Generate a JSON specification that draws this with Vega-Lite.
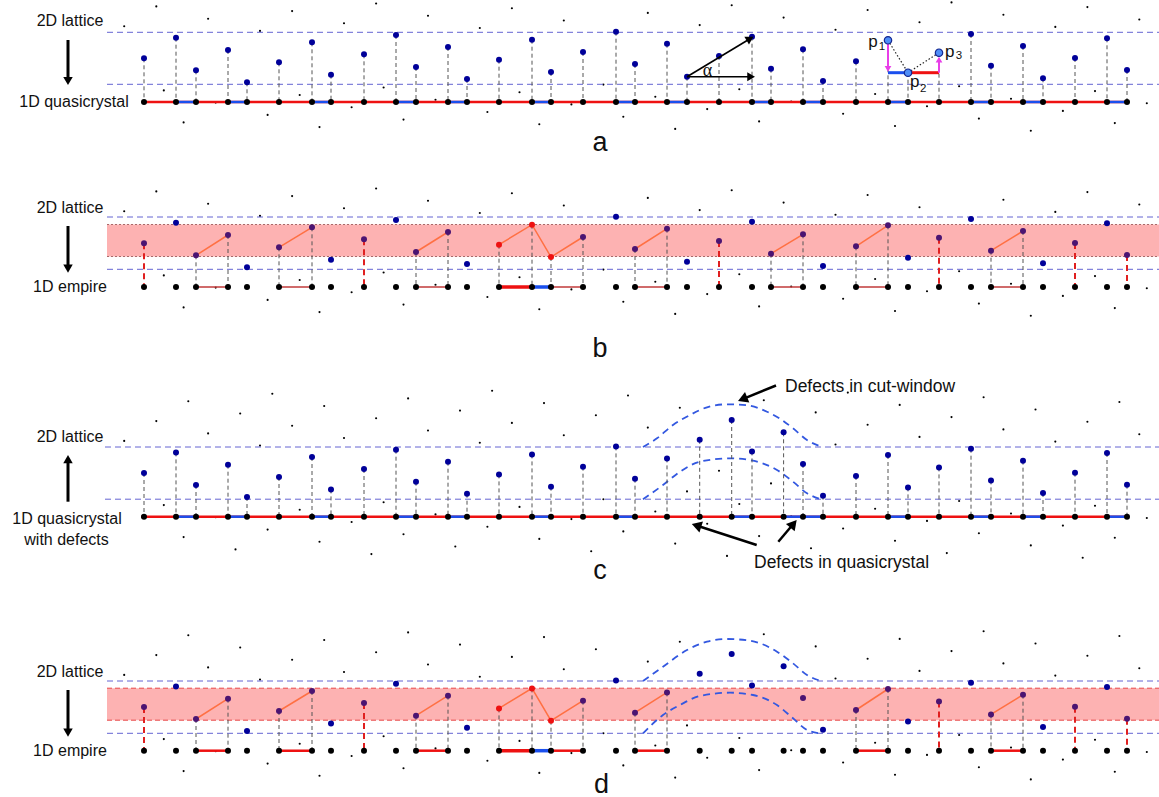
{
"$schema": "https://vega.github.io/schema/vega-lite/v6.json",
"background": "white",
"padding": 0,
"spacing": 0,
"bounds": "flush",
"config": {"view": {"stroke": null}, "text": {"font": "Liberation Sans"}},
"resolve": {"scale": {"x": "independent", "y": "independent", "color": "independent"}},
"datasets": {
"qa": [
{"x":144,"y":58.3,"t":"i","s":"r"},{"x":176,"y":37.7,"t":"o","s":"n"},{"x":196,"y":70.3,"t":"i","s":"g"},{"x":228,"y":50,"t":"i","s":"g"},
{"x":247,"y":82.3,"t":"o","s":"n"},{"x":279,"y":62.3,"t":"i","s":"g"},{"x":312,"y":42.3,"t":"i","s":"g"},{"x":331,"y":74.7,"t":"o","s":"n"},
{"x":364,"y":54.3,"t":"i","s":"r"},{"x":396,"y":35,"t":"o","s":"n"},{"x":416,"y":67,"t":"i","s":"g"},{"x":448,"y":47,"t":"i","s":"g"},
{"x":467,"y":79,"t":"o","s":"n"},{"x":499,"y":59.7,"t":"r","s":"g"},{"x":532,"y":39.7,"t":"r","s":"g"},{"x":551,"y":72,"t":"r","s":"g"},
{"x":583,"y":52,"t":"i","s":"g"},{"x":616,"y":31.7,"t":"o","s":"n"},{"x":635,"y":64,"t":"i","s":"g"},{"x":667,"y":43.7,"t":"i","s":"g"},
{"x":687,"y":76.7,"t":"o","s":"n"},{"x":719,"y":56,"t":"i","s":"r"},{"x":752,"y":36.7,"t":"o","s":"n"},{"x":771,"y":68.7,"t":"i","s":"g"},
{"x":803,"y":49.3,"t":"i","s":"g"},{"x":823,"y":81,"t":"o","s":"n"},{"x":856,"y":61.3,"t":"i","s":"g"},{"x":888,"y":40.3,"t":"i","s":"g"},
{"x":908,"y":72.7,"t":"o","s":"n"},{"x":939,"y":52.7,"t":"i","s":"r"},{"x":971,"y":34,"t":"o","s":"n"},{"x":991,"y":65.7,"t":"i","s":"g"},
{"x":1023,"y":46,"t":"i","s":"g"},{"x":1043,"y":78.3,"t":"o","s":"n"},{"x":1075,"y":58,"t":"i","s":"r"},{"x":1107,"y":38.3,"t":"o","s":"n"},
{"x":1127,"y":70,"t":"i","s":"r"}
],
"qd": [
{"x":144,"y":58.3,"t":"i","s":"r"},{"x":176,"y":37.7,"t":"o","s":"n"},{"x":196,"y":70.3,"t":"i","s":"g"},{"x":228,"y":50,"t":"i","s":"g"},
{"x":247,"y":82.3,"t":"o","s":"n"},{"x":279,"y":62.3,"t":"i","s":"g"},{"x":312,"y":42.3,"t":"i","s":"g"},{"x":331,"y":74.7,"t":"o","s":"n"},
{"x":364,"y":54.3,"t":"i","s":"r"},{"x":396,"y":35,"t":"o","s":"n"},{"x":416,"y":67,"t":"i","s":"g"},{"x":448,"y":47,"t":"i","s":"g"},
{"x":467,"y":79,"t":"o","s":"n"},{"x":499,"y":59.7,"t":"r","s":"g"},{"x":532,"y":39.7,"t":"r","s":"g"},{"x":551,"y":72,"t":"r","s":"g"},
{"x":583,"y":52,"t":"i","s":"g"},{"x":616,"y":31.7,"t":"o","s":"n"},{"x":635,"y":64,"t":"i","s":"g"},{"x":667,"y":43.7,"t":"i","s":"g"},
{"x":699.7,"y":25.1,"t":"o","s":"n"},{"x":731.7,"y":5.3,"t":"o","s":"n"},{"x":752,"y":36.7,"t":"o","s":"n"},{"x":783.6,"y":17.6,"t":"o","s":"n"},
{"x":803,"y":49.3,"t":"i","s":"n"},{"x":823,"y":81,"t":"o","s":"n"},{"x":856,"y":61.3,"t":"i","s":"g"},{"x":888,"y":40.3,"t":"i","s":"g"},
{"x":908,"y":72.7,"t":"o","s":"n"},{"x":939,"y":52.7,"t":"i","s":"r"},{"x":971,"y":34,"t":"o","s":"n"},{"x":991,"y":65.7,"t":"i","s":"g"},
{"x":1023,"y":46,"t":"i","s":"g"},{"x":1043,"y":78.3,"t":"o","s":"n"},{"x":1075,"y":58,"t":"i","s":"r"},{"x":1107,"y":38.3,"t":"o","s":"n"},
{"x":1127,"y":70,"t":"i","s":"r"}
],
"sa": [
{"x":176,"x2":196,"y":102},{"x":228,"x2":247,"y":102},{"x":312,"x2":331,"y":102},{"x":396,"x2":416,"y":102},{"x":448,"x2":467,"y":102},{"x":532,"x2":551,"y":102},{"x":616,"x2":635,"y":102},
{"x":667,"x2":687,"y":102},{"x":752,"x2":771,"y":102},{"x":803,"x2":823,"y":102},{"x":888,"x2":908,"y":102},{"x":971,"x2":991,"y":102},{"x":1023,"x2":1043,"y":102},{"x":1107,"x2":1127,"y":102}
],
"sc": [
{"x":176,"x2":196,"y":102},{"x":228,"x2":247,"y":102},{"x":312,"x2":331,"y":102},{"x":396,"x2":416,"y":102},{"x":448,"x2":467,"y":102},{"x":532,"x2":551,"y":102},{"x":616,"x2":635,"y":102},
{"x":731.7,"x2":752,"y":102},{"x":783.6,"x2":803,"y":102},{"x":803,"x2":823,"y":102},{"x":888,"x2":908,"y":102},{"x":971,"x2":991,"y":102},{"x":1023,"x2":1043,"y":102},{"x":1107,"x2":1127,"y":102}
],
"bb": [
{"x":196,"x2":228,"y":102,"k":"n"},{"x":279,"x2":312,"y":102,"k":"n"},{"x":416,"x2":448,"y":102,"k":"n"},{"x":499,"x2":532,"y":102,"k":"R"},{"x":532,"x2":551,"y":102,"k":"B"},
{"x":551,"x2":583,"y":102,"k":"n"},{"x":635,"x2":667,"y":102,"k":"n"},{"x":771,"x2":803,"y":102,"k":"n"},{"x":856,"x2":888,"y":102,"k":"n"},{"x":991,"x2":1023,"y":102,"k":"n"}
],
"bd": [
{"x":196,"x2":228,"y":102,"k":"n"},{"x":279,"x2":312,"y":102,"k":"n"},{"x":416,"x2":448,"y":102,"k":"n"},{"x":499,"x2":532,"y":102,"k":"R"},{"x":532,"x2":551,"y":102,"k":"B"},
{"x":551,"x2":583,"y":102,"k":"n"},{"x":635,"x2":667,"y":102,"k":"n"},{"x":856,"x2":888,"y":102,"k":"n"},{"x":991,"x2":1023,"y":102,"k":"n"}
],
"ob": [
{"x":196,"y":70.3,"g":1},{"x":228,"y":50,"g":1},{"x":279,"y":62.3,"g":2},{"x":312,"y":42.3,"g":2},{"x":416,"y":67,"g":3},{"x":448,"y":47,"g":3},
{"x":499,"y":59.7,"g":4},{"x":532,"y":39.7,"g":4},{"x":551,"y":72,"g":4},{"x":583,"y":52,"g":4},{"x":635,"y":64,"g":5},{"x":667,"y":43.7,"g":5},
{"x":771,"y":68.7,"g":6},{"x":803,"y":49.3,"g":6},{"x":856,"y":61.3,"g":7},{"x":888,"y":40.3,"g":7},{"x":991,"y":65.7,"g":8},{"x":1023,"y":46,"g":8}
],
"od": [
{"x":196,"y":70.3,"g":1},{"x":228,"y":50,"g":1},{"x":279,"y":62.3,"g":2},{"x":312,"y":42.3,"g":2},{"x":416,"y":67,"g":3},{"x":448,"y":47,"g":3},
{"x":499,"y":59.7,"g":4},{"x":532,"y":39.7,"g":4},{"x":551,"y":72,"g":4},{"x":583,"y":52,"g":4},{"x":635,"y":64,"g":5},{"x":667,"y":43.7,"g":5},
{"x":856,"y":61.3,"g":7},{"x":888,"y":40.3,"g":7},{"x":991,"y":65.7,"g":8},{"x":1023,"y":46,"g":8}
],
"cc": [
{"x":643,"y":32.3,"g":"u"},{"x":657,"y":23.6,"g":"u"},{"x":673,"y":10.3,"g":"u"},{"x":690,"y":0.3,"g":"u"},{"x":707,"y":-7.4,"g":"u"},{"x":727,"y":-10.4,"g":"u"},
{"x":747,"y":-9.4,"g":"u"},{"x":767,"y":-3,"g":"u"},{"x":780,"y":4,"g":"u"},{"x":793,"y":13.6,"g":"u"},{"x":807,"y":25.3,"g":"u"},{"x":820,"y":31.5,"g":"u"},
{"x":643,"y":84.6,"g":"l"},{"x":663,"y":70.3,"g":"l"},{"x":680,"y":57,"g":"l"},{"x":700,"y":47,"g":"l"},{"x":730,"y":43.6,"g":"l"},{"x":753,"y":46,"g":"l"},
{"x":777,"y":55.3,"g":"l"},{"x":793,"y":67,"g":"l"},{"x":807,"y":78.6,"g":"l"},{"x":820,"y":84.4,"g":"l"}
],
"cd": [
{"x":643,"y":32.3,"g":"u"},{"x":663,"y":18,"g":"u"},{"x":687,"y":1.3,"g":"u"},{"x":707,"y":-7,"g":"u"},{"x":727,"y":-9.7,"g":"u"},{"x":750,"y":-8,"g":"u"},
{"x":760,"y":-5.4,"g":"u"},{"x":777,"y":3,"g":"u"},{"x":793,"y":14.6,"g":"u"},{"x":807,"y":26.3,"g":"u"},{"x":820,"y":32,"g":"u"},
{"x":643,"y":84.6,"g":"l"},{"x":663,"y":66.3,"g":"l"},{"x":680,"y":56.3,"g":"l"},{"x":700,"y":47.3,"g":"l"},{"x":730,"y":44,"g":"l"},{"x":753,"y":46.3,"g":"l"},
{"x":777,"y":56.3,"g":"l"},{"x":793,"y":69.6,"g":"l"},{"x":807,"y":81.3,"g":"l"},{"x":820,"y":84.6,"g":"l"}
],
"dots": [
{"x":124.2,"y":26.2,"k":"n"},{"x":156.3,"y":6.4,"k":"n"},{"x":188.3,"y":-13.4,"k":"n"},{"x":208.1,"y":18.7,"k":"n"},{"x":240.2,"y":-1.2,"k":"n"},
{"x":272.3,"y":-21,"k":"n"},{"x":163.8,"y":90.4,"k":"n"},{"x":260,"y":30.9,"k":"n"},{"x":292.1,"y":11.1,"k":"n"},{"x":324.2,"y":-8.7,"k":"n"},
{"x":183.6,"y":122.4,"k":"n"},{"x":215.7,"y":102.6,"k":"n"},{"x":344,"y":23.3,"k":"n"},{"x":376.1,"y":3.5,"k":"n"},{"x":408.1,"y":-16.3,"k":"n"},
{"x":235.5,"y":134.7,"k":"n"},{"x":267.6,"y":114.9,"k":"n"},{"x":299.7,"y":95,"k":"n"},{"x":428,"y":15.8,"k":"n"},{"x":460,"y":-4.1,"k":"n"},
{"x":492.1,"y":-23.9,"k":"n"},{"x":319.5,"y":127.1,"k":"n"},{"x":351.6,"y":107.3,"k":"n"},{"x":383.6,"y":87.5,"k":"n"},{"x":479.8,"y":28,"k":"n"},
{"x":511.9,"y":8.2,"k":"n"},{"x":544,"y":-11.6,"k":"n"},{"x":371.4,"y":139.4,"k":"n"},{"x":403.5,"y":119.6,"k":"n"},{"x":435.5,"y":99.7,"k":"n"},
{"x":563.8,"y":20.5,"k":"n"},{"x":595.9,"y":0.6,"k":"n"},{"x":628,"y":-19.2,"k":"n"},{"x":455.3,"y":131.8,"k":"n"},{"x":487.4,"y":112,"k":"n"},
{"x":519.5,"y":92.2,"k":"n"},{"x":647.8,"y":12.9,"k":"n"},{"x":679.8,"y":-6.9,"k":"n"},{"x":539.3,"y":124.2,"k":"n"},{"x":571.4,"y":104.4,"k":"n"},
{"x":603.4,"y":84.6,"k":"n"},{"x":699.7,"y":25.1,"k":"q"},{"x":731.7,"y":5.3,"k":"q"},{"x":763.8,"y":-14.5,"k":"n"},{"x":591.2,"y":136.5,"k":"n"},
{"x":623.3,"y":116.7,"k":"n"},{"x":655.3,"y":96.8,"k":"n"},{"x":783.6,"y":17.6,"k":"q"},{"x":815.7,"y":-2.3,"k":"n"},{"x":847.8,"y":-22.1,"k":"n"},
{"x":675.2,"y":128.9,"k":"n"},{"x":707.2,"y":109.1,"k":"n"},{"x":739.3,"y":89.3,"k":"n"},{"x":835.5,"y":29.8,"k":"n"},{"x":867.6,"y":10,"k":"n"},
{"x":899.7,"y":-9.8,"k":"n"},{"x":759.1,"y":121.4,"k":"n"},{"x":791.2,"y":101.5,"k":"n"},{"x":919.5,"y":22.2,"k":"n"},{"x":951.5,"y":2.4,"k":"n"},
{"x":983.6,"y":-17.4,"k":"n"},{"x":811,"y":133.6,"k":"n"},{"x":843.1,"y":113.8,"k":"n"},{"x":875.1,"y":94,"k":"n"},{"x":1003.4,"y":14.7,"k":"n"},
{"x":1035.5,"y":-5.2,"k":"n"},{"x":895,"y":126,"k":"n"},{"x":927,"y":106.2,"k":"n"},{"x":959.1,"y":86.3,"k":"n"},{"x":1055.3,"y":26.9,"k":"n"},
{"x":1087.4,"y":7.1,"k":"n"},{"x":1119.4,"y":-12.7,"k":"n"},{"x":946.8,"y":138.4,"k":"n"},{"x":978.9,"y":118.6,"k":"n"},{"x":1011,"y":98.8,"k":"n"},
{"x":1139.3,"y":19.5,"k":"n"},{"x":1030.8,"y":130.7,"k":"n"},{"x":1062.9,"y":110.9,"k":"n"},{"x":1095,"y":91.1,"k":"n"},{"x":1114.8,"y":123.1,"k":"n"},
{"x":1146.8,"y":103.3,"k":"n"},{"x":727,"y":141.2,"k":"n"},{"x":1082.7,"y":143,"k":"n"},
{"x":687,"y":76.7,"k":"d"},{"x":719,"y":56,"k":"d"},{"x":771,"y":68.7,"k":"d"}
]
},
"vconcat": [
{
"width": 1159, "height": 165,
"encoding": {
 "x": {"field":"x","type":"quantitative","scale":{"domain":[0,1159],"nice":false,"zero":false},"axis":null},
 "y": {"field":"y","type":"quantitative","scale":{"domain":[0,165],"nice":false,"zero":false,"reverse":true},"axis":null}
},
"layer": [
 {"data":{"name":"dots"},"transform":[{"filter":"datum.k != 'd' && datum.y >= 1.5 && datum.y <= 131"}],"mark":{"type":"circle","size":4.5,"color":"#000","opacity":1}},
 {"data":{"values":[{"x":107,"x2":1159,"y":32.3},{"x":107,"x2":1159,"y":84.3}]},"mark":{"type":"rule","color":"#6464d2","strokeDash":[6,4],"strokeWidth":1},"encoding":{"x2":{"field":"x2"}}},
 {"data":{"name":"qa"},"mark":{"type":"rule","color":"#555","strokeDash":[4,3],"strokeWidth":1},"encoding":{"y2":{"datum":102}}},
 {"data":{"values":[{"x":144,"x2":1127,"y":102}]},"mark":{"type":"rule","color":"#ee1111","strokeWidth":2.5},"encoding":{"x2":{"field":"x2"}}},
 {"data":{"name":"sa"},"mark":{"type":"rule","color":"#1a4fee","strokeWidth":2.5},"encoding":{"x2":{"field":"x2"}}},
 {"data":{"name":"qa"},"mark":{"type":"circle","size":36,"color":"#000","opacity":1},"encoding":{"y":{"datum":102}}},
 {"data":{"name":"qa"},"mark":{"type":"circle","size":36,"color":"#000099","opacity":1}},
 {"data":{"values":[{"x":888,"x2":908,"y":72.7}]},"mark":{"type":"rule","color":"#1a4fee","strokeWidth":3},"encoding":{"x2":{"field":"x2"}}},
 {"data":{"values":[{"x":908,"x2":939,"y":72.7}]},"mark":{"type":"rule","color":"#ee1111","strokeWidth":3},"encoding":{"x2":{"field":"x2"}}},
 {"data":{"values":[{"x":888,"y":40.3,"x2":908,"y2":72.7},{"x":908,"y":72.7,"x2":939,"y2":52.7}]},"mark":{"type":"rule","color":"#222","strokeDash":[1.5,2],"strokeWidth":1.2},"encoding":{"x2":{"field":"x2"},"y2":{"field":"y2"}}},
 {"data":{"values":[{"x":888,"y":43.5,"y2":67},{"x":939,"y":72.7,"y2":61}]},"mark":{"type":"rule","color":"#e83ee8","strokeWidth":2},"encoding":{"y2":{"field":"y2"}}},
 {"data":{"values":[{"x":888,"y":68.8}]},"mark":{"type":"point","shape":"triangle-down","filled":true,"size":45,"color":"#e83ee8","opacity":1}},
 {"data":{"values":[{"x":939,"y":59.6}]},"mark":{"type":"point","shape":"triangle-up","filled":true,"size":45,"color":"#e83ee8","opacity":1}},
 {"data":{"values":[{"x":888,"y":40.3},{"x":908,"y":72.7},{"x":939,"y":52.7}]},"mark":{"type":"circle","size":55,"fill":"#4f8ef7","stroke":"#16288f","strokeWidth":1.2,"opacity":1}},
 {"data":{"values":[{"x":873,"y":46.7,"t":"p"},{"x":914.7,"y":87.3,"t":"p"},{"x":949.7,"y":57.3,"t":"p"}]},"mark":{"type":"text","fontSize":17,"align":"center","baseline":"alphabetic","color":"#111"},"encoding":{"text":{"field":"t"}}},
 {"data":{"values":[{"x":882,"y":49.5,"t":"1"},{"x":923.3,"y":91.7,"t":"2"},{"x":959,"y":59,"t":"3"}]},"mark":{"type":"text","fontSize":11.5,"align":"center","baseline":"alphabetic","color":"#111"},"encoding":{"text":{"field":"t"}}},
 {"data":{"values":[{"x":687,"y":76.7,"x2":750,"y2":38.7},{"x":687,"y":76.7,"x2":751,"y2":76.7}]},"mark":{"type":"rule","color":"#000","strokeWidth":1.6},"encoding":{"x2":{"field":"x2"},"y2":{"field":"y2"}}},
 {"data":{"values":[{"x":750,"y":38.7}]},"mark":{"type":"point","shape":"triangle-up","angle":59,"filled":true,"size":80,"color":"#000","opacity":1}},
 {"data":{"values":[{"x":751.1,"y":76.7}]},"mark":{"type":"point","shape":"triangle-right","filled":true,"size":80,"color":"#000","opacity":1}},
 {"data":{"values":[{"x":707.5,"y":76,"t":"α"}]},"mark":{"type":"text","font":"Liberation Serif","fontSize":18,"align":"center","baseline":"alphabetic","color":"#111"},"encoding":{"text":{"field":"t"}}},
 {"data":{"values":[{"x":70,"y":26.4,"t":"2D lattice"},{"x":74,"y":107.4,"t":"1D quasicrystal"}]},"mark":{"type":"text","fontSize":16,"align":"center","baseline":"alphabetic","color":"#111"},"encoding":{"text":{"field":"t"}}},
 {"data":{"values":[{"x":68,"y":40,"y2":79}]},"mark":{"type":"rule","color":"#000","strokeWidth":3},"encoding":{"y2":{"field":"y2"}}},
 {"data":{"values":[{"x":68,"y":81}]},"mark":{"type":"point","shape":"triangle-down","filled":true,"size":90,"color":"#000","opacity":1}},
 {"data":{"values":[{"x":600,"y":151,"t":"a"}]},"mark":{"type":"text","fontSize":27,"align":"center","baseline":"alphabetic","color":"#111"},"encoding":{"text":{"field":"t"}}}
]
},
{
"width": 1159, "height": 200,
"encoding": {
 "x": {"field":"x","type":"quantitative","scale":{"domain":[0,1159],"nice":false,"zero":false},"axis":null},
 "y": {"field":"y","type":"quantitative","scale":{"domain":[-20,180],"nice":false,"zero":false,"reverse":true},"axis":null}
},
"layer": [
 {"data":{"name":"dots"},"transform":[{"filter":"datum.k != 'd' && datum.y >= 3 && datum.y <= 131"}],"mark":{"type":"circle","size":4.5,"color":"#000","opacity":1}},
 {"data":{"values":[{"x":107,"x2":1159,"y":39.5,"y2":71.5}]},"mark":{"type":"rect","color":"#fdb2b2","opacity":1},"encoding":{"x2":{"field":"x2"},"y2":{"field":"y2"}}},
 {"data":{"values":[{"x":107,"x2":1159,"y":39.5},{"x":107,"x2":1159,"y":71.5}]},"mark":{"type":"rule","color":"#a86a6a","strokeDash":[2,2],"strokeWidth":1},"encoding":{"x2":{"field":"x2"}}},
 {"data":{"values":[{"x":107,"x2":1159,"y":32},{"x":107,"x2":1159,"y":84.3}]},"mark":{"type":"rule","color":"#6464d2","strokeDash":[6,4],"strokeWidth":1},"encoding":{"x2":{"field":"x2"}}},
 {"data":{"name":"qa"},"transform":[{"filter":"datum.s == 'g'"}],"mark":{"type":"rule","color":"#555","strokeDash":[4,3],"strokeWidth":1},"encoding":{"y2":{"datum":102}}},
 {"data":{"name":"qa"},"transform":[{"filter":"datum.s == 'r'"}],"mark":{"type":"rule","color":"#e02020","strokeDash":[6,4],"strokeWidth":2},"encoding":{"y2":{"datum":102}}},
 {"data":{"name":"bb"},"transform":[{"filter":"datum.k == 'n'"}],"mark":{"type":"rule","color":"#c03a3a","strokeWidth":1.5},"encoding":{"x2":{"field":"x2"}}},
 {"data":{"name":"bb"},"transform":[{"filter":"datum.k == 'R'"}],"mark":{"type":"rule","color":"#ee1111","strokeWidth":3.5},"encoding":{"x2":{"field":"x2"}}},
 {"data":{"name":"bb"},"transform":[{"filter":"datum.k == 'B'"}],"mark":{"type":"rule","color":"#1a4fee","strokeWidth":3.5},"encoding":{"x2":{"field":"x2"}}},
 {"data":{"name":"ob"},"mark":{"type":"line","color":"#ff7043","strokeWidth":1.5},"encoding":{"detail":{"field":"g"}}},
 {"data":{"name":"qa"},"mark":{"type":"circle","size":36,"color":"#000","opacity":1},"encoding":{"y":{"datum":102}}},
 {"data":{"name":"qa"},"mark":{"type":"circle","size":36,"opacity":1},"encoding":{"color":{"field":"t","type":"nominal","scale":{"domain":["o","i","r"],"range":["#000099","#4b1472","#ee1111"]},"legend":null}}},
 {"data":{"values":[{"x":70,"y":28,"t":"2D lattice"},{"x":70,"y":107.4,"t":"1D empire"}]},"mark":{"type":"text","fontSize":16,"align":"center","baseline":"alphabetic","color":"#111"},"encoding":{"text":{"field":"t"}}},
 {"data":{"values":[{"x":68,"y":41,"y2":81.5}]},"mark":{"type":"rule","color":"#000","strokeWidth":3},"encoding":{"y2":{"field":"y2"}}},
 {"data":{"values":[{"x":68,"y":83.6}]},"mark":{"type":"point","shape":"triangle-down","filled":true,"size":90,"color":"#000","opacity":1}},
 {"data":{"values":[{"x":600,"y":171.5,"t":"b"}]},"mark":{"type":"text","fontSize":27,"align":"center","baseline":"alphabetic","color":"#111"},"encoding":{"text":{"field":"t"}}}
]
},
{
"width": 1159, "height": 235,
"encoding": {
 "x": {"field":"x","type":"quantitative","scale":{"domain":[0,1159],"nice":false,"zero":false},"axis":null},
 "y": {"field":"y","type":"quantitative","scale":{"domain":[-49.7,185.3],"nice":false,"zero":false,"reverse":true},"axis":null}
},
"layer": [
 {"data":{"name":"dots"},"transform":[{"filter":"datum.k != 'q' && datum.y >= -24.5 && datum.y <= 144"}],"mark":{"type":"circle","size":4.5,"color":"#000","opacity":1}},
 {"data":{"values":[{"x":105,"x2":1159,"y":32.3},{"x":105,"x2":1159,"y":84.5}]},"mark":{"type":"rule","color":"#6464d2","strokeDash":[6,4],"strokeWidth":1},"encoding":{"x2":{"field":"x2"}}},
 {"data":{"name":"cc"},"mark":{"type":"line","interpolate":"monotone","color":"#3358e0","strokeWidth":1.8,"strokeDash":[7,5]},"encoding":{"detail":{"field":"g"}}},
 {"data":{"name":"qd"},"mark":{"type":"rule","color":"#555","strokeDash":[4,3],"strokeWidth":1},"encoding":{"y2":{"datum":102}}},
 {"data":{"values":[{"x":141,"x2":1127,"y":102}]},"mark":{"type":"rule","color":"#ee1111","strokeWidth":2.5},"encoding":{"x2":{"field":"x2"}}},
 {"data":{"name":"sc"},"mark":{"type":"rule","color":"#1a4fee","strokeWidth":2.5},"encoding":{"x2":{"field":"x2"}}},
 {"data":{"name":"qd"},"mark":{"type":"circle","size":36,"color":"#000","opacity":1},"encoding":{"y":{"datum":102}}},
 {"data":{"name":"qd"},"mark":{"type":"circle","size":36,"color":"#000099","opacity":1}},
 {"data":{"values":[{"x":70,"y":27.7,"t":"2D lattice"},{"x":67,"y":109.3,"t":"1D quasicrystal"},{"x":66.5,"y":130.3,"t":"with defects"}]},"mark":{"type":"text","fontSize":16,"align":"center","baseline":"alphabetic","color":"#111"},"encoding":{"text":{"field":"t"}}},
 {"data":{"values":[{"x":68,"y":87,"y2":46}]},"mark":{"type":"rule","color":"#000","strokeWidth":3},"encoding":{"y2":{"field":"y2"}}},
 {"data":{"values":[{"x":68,"y":44.4}]},"mark":{"type":"point","shape":"triangle-up","filled":true,"size":90,"color":"#000","opacity":1}},
 {"data":{"values":[{"x":600,"y":164.6,"t":"c"}]},"mark":{"type":"text","fontSize":27,"align":"center","baseline":"alphabetic","color":"#111"},"encoding":{"text":{"field":"t"}}},
 {"data":{"values":[{"x":785,"y":-23,"t":"Defects in cut-window"},{"x":754,"y":153.6,"t":"Defects in quasicrystal"}]},"mark":{"type":"text","fontSize":17.5,"align":"left","baseline":"alphabetic","color":"#111"},"encoding":{"text":{"field":"t"}}},
 {"data":{"values":[{"x":776,"y":-29.2,"x2":742.6,"y2":-15.6},{"x":756.7,"y":130.3,"x2":696.5,"y2":110.8},{"x":778.3,"y":127,"x2":793.5,"y2":109.1}]},"mark":{"type":"rule","color":"#000","strokeWidth":2.5},"encoding":{"x2":{"field":"x2"},"y2":{"field":"y2"}}},
 {"data":{"values":[{"x":742.6,"y":-15.6}]},"mark":{"type":"point","shape":"triangle-up","angle":247.8,"filled":true,"size":130,"color":"#000","opacity":1}},
 {"data":{"values":[{"x":696.5,"y":110.8}]},"mark":{"type":"point","shape":"triangle-up","angle":287.9,"filled":true,"size":130,"color":"#000","opacity":1}},
 {"data":{"values":[{"x":793.5,"y":109.1}]},"mark":{"type":"point","shape":"triangle-up","angle":40.3,"filled":true,"size":130,"color":"#000","opacity":1}}
]
},
{
"width": 1159, "height": 197,
"encoding": {
 "x": {"field":"x","type":"quantitative","scale":{"domain":[0,1159],"nice":false,"zero":false},"axis":null},
 "y": {"field":"y","type":"quantitative","scale":{"domain":[-48.7,148.3],"nice":false,"zero":false,"reverse":true},"axis":null}
},
"layer": [
 {"data":{"name":"dots"},"transform":[{"filter":"datum.k != 'q' && datum.y >= -18.5 && datum.y <= 131"}],"mark":{"type":"circle","size":4.5,"color":"#000","opacity":1}},
 {"data":{"values":[{"x":107,"x2":1159,"y":39.5,"y2":71.5}]},"mark":{"type":"rect","color":"#fdb2b2","opacity":1},"encoding":{"x2":{"field":"x2"},"y2":{"field":"y2"}}},
 {"data":{"values":[{"x":107,"x2":1159,"y":39.5},{"x":107,"x2":1159,"y":71.5}]},"mark":{"type":"rule","color":"#e84848","strokeDash":[5,3],"strokeWidth":1},"encoding":{"x2":{"field":"x2"}}},
 {"data":{"values":[{"x":107,"x2":1159,"y":32.3},{"x":107,"x2":1159,"y":84.6}]},"mark":{"type":"rule","color":"#6464d2","strokeDash":[6,4],"strokeWidth":1},"encoding":{"x2":{"field":"x2"}}},
 {"data":{"name":"cd"},"mark":{"type":"line","interpolate":"monotone","color":"#3358e0","strokeWidth":1.8,"strokeDash":[7,5]},"encoding":{"detail":{"field":"g"}}},
 {"data":{"name":"qd"},"transform":[{"filter":"datum.s == 'g'"}],"mark":{"type":"rule","color":"#555","strokeDash":[4,3],"strokeWidth":1},"encoding":{"y2":{"datum":102}}},
 {"data":{"name":"qd"},"transform":[{"filter":"datum.s == 'r'"}],"mark":{"type":"rule","color":"#e02020","strokeDash":[6,4],"strokeWidth":2},"encoding":{"y2":{"datum":102}}},
 {"data":{"name":"bd"},"transform":[{"filter":"datum.k == 'n'"}],"mark":{"type":"rule","color":"#ee1111","strokeWidth":2.5},"encoding":{"x2":{"field":"x2"}}},
 {"data":{"name":"bd"},"transform":[{"filter":"datum.k == 'R'"}],"mark":{"type":"rule","color":"#ee1111","strokeWidth":3.5},"encoding":{"x2":{"field":"x2"}}},
 {"data":{"name":"bd"},"transform":[{"filter":"datum.k == 'B'"}],"mark":{"type":"rule","color":"#1a4fee","strokeWidth":3.5},"encoding":{"x2":{"field":"x2"}}},
 {"data":{"name":"od"},"mark":{"type":"line","color":"#ff7043","strokeWidth":1.5},"encoding":{"detail":{"field":"g"}}},
 {"data":{"name":"qd"},"mark":{"type":"circle","size":36,"color":"#000","opacity":1},"encoding":{"y":{"datum":102}}},
 {"data":{"name":"qd"},"mark":{"type":"circle","size":36,"opacity":1},"encoding":{"color":{"field":"t","type":"nominal","scale":{"domain":["o","i","r"],"range":["#000099","#4b1472","#ee1111"]},"legend":null}}},
 {"data":{"values":[{"x":70,"y":28.7,"t":"2D lattice"},{"x":70,"y":107.7,"t":"1D empire"}]},"mark":{"type":"text","fontSize":16,"align":"center","baseline":"alphabetic","color":"#111"},"encoding":{"text":{"field":"t"}}},
 {"data":{"values":[{"x":68,"y":41.3,"y2":82}]},"mark":{"type":"rule","color":"#000","strokeWidth":3},"encoding":{"y2":{"field":"y2"}}},
 {"data":{"values":[{"x":68,"y":83.9}]},"mark":{"type":"point","shape":"triangle-down","filled":true,"size":90,"color":"#000","opacity":1}},
 {"data":{"values":[{"x":601.5,"y":144.5,"t":"d"}]},"mark":{"type":"text","fontSize":27,"align":"center","baseline":"alphabetic","color":"#111"},"encoding":{"text":{"field":"t"}}}
]
}
]
}
